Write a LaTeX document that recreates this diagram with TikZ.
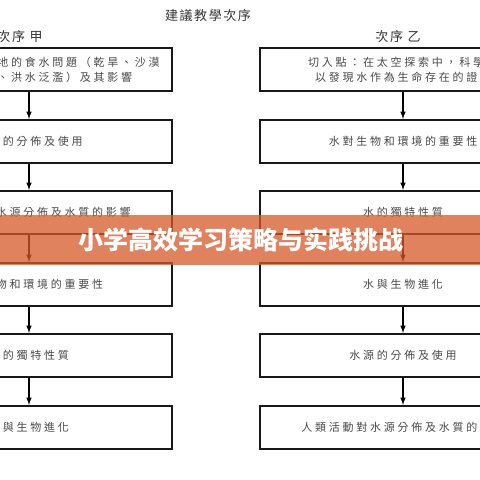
\documentclass[tikz,border=0pt]{standalone}
\usepackage{fontspec}
\usepackage{tikz}
\newfontfamily\cjk[LetterSpace=25]{Noto Sans CJK TC}
\newfontfamily\cjktitle[LetterSpace=12]{Noto Sans CJK TC}
\newfontfamily\cjkbanner{Noto Sans CJK SC}
\definecolor{boxtext}{HTML}{484848}
\definecolor{titletext}{HTML}{333333}
\definecolor{bannerfill}{HTML}{D7582A}

\tikzset{
  stepbox/.style={draw=black!90, line width=2.2pt, minimum width=286pt, minimum height=43pt, inner sep=0pt,
    font=\cjk\fontsize{11}{15}\selectfont, text=boxtext, align=center},
  steptext/.style={font=\cjk\fontsize{11}{15}\selectfont, text=boxtext, align=center, inner sep=0pt},
  flow/.style={line width=1.5pt, -latex},
  ordertitle/.style={font=\cjktitle\fontsize{13}{14}\selectfont, text=titletext},
}

\begin{document}
\begin{tikzpicture}[x=1pt,y=-1pt]
        \useasboundingbox (0,0) rectangle (480,480);
        \clip (0,0) rectangle (480,480);
        % headings
        \node[ordertitle] (title) at (208,16) {建議教學次序};
        \node[ordertitle] (titleA) at (20,37) {次序\ 甲};
        \node[ordertitle] (titleB) at (398,37) {次序\ 乙};
        % order A
        \node[stepbox] (a1) at (29,69.5) {};
        \node[steptext] (a1text) at (58,70) {世界各地的食水問題（乾旱、沙漠\\化、洪水泛濫）及其影響};
        \node[stepbox] (a2) at (29,141.5) {水源的分佈及使用};
        \node[stepbox] (a3) at (29,212.5) {人類活動對水源分佈及水質的影響};
        \node[stepbox] (a4) at (29,284.5) {水對生物和環境的重要性};
        \node[stepbox] (a5) at (29,355.5) {水的獨特性質};
        \node[stepbox] (a6) at (29,427.5) {水與生物進化};
        \draw[flow] (a1) -- (a2);
        \draw[flow] (a2) -- (a3);
        \draw[flow] (a3) -- (a4);
        \draw[flow] (a4) -- (a5);
        \draw[flow] (a5) -- (a6);
        % order B
        \node[stepbox] (b1) at (403,69.5) {切入點：在太空探索中，科學家\\以發現水作為生命存在的證據};
        \node[stepbox] (b2) at (403,141.5) {水對生物和環境的重要性};
        \node[stepbox] (b3) at (403,212.5) {水的獨特性質};
        \node[stepbox] (b4) at (403,284.5) {水與生物進化};
        \node[stepbox] (b5) at (403,355.5) {水源的分佈及使用};
        \node[stepbox] (b6) at (403,427.5) {人類活動對水源分佈及水質的影響};
        \draw[flow] (b1) -- (b2);
        \draw[flow] (b2) -- (b3);
        \draw[flow] (b3) -- (b4);
        \draw[flow] (b4) -- (b5);
        \draw[flow] (b5) -- (b6);
        % banner
        \fill[bannerfill,opacity=0.75] (-2,215) rectangle (482,265);
        \node[font=\cjkbanner\bfseries\fontsize{25}{26}\selectfont, text=white] (banner) at (241,240) {小学高效学习策略与实践挑战};
\end{tikzpicture}
\end{document}
